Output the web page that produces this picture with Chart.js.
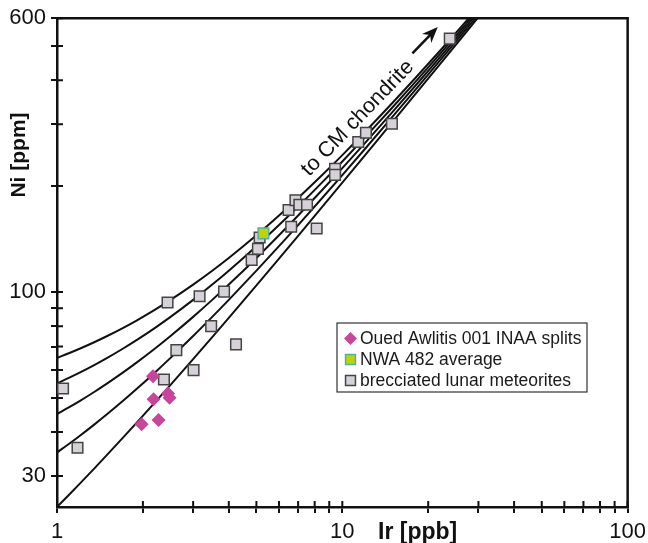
<!DOCTYPE html>
<html><head><meta charset="utf-8">
<script src="https://cdn.jsdelivr.net/npm/chart.js@4/dist/chart.umd.min.js"></script>
<style>html,body{margin:0;padding:0;background:#fff}#wrap{width:648px;height:543px;position:relative}</style>
</head><body><div id="wrap"><canvas id="c" width="648" height="543"></canvas></div>
<script>
// ---- data ----
const irGrid = [1, 1.1, 1.2, 1.35, 1.5, 1.7, 1.9, 2.2, 2.5, 3, 3.5, 4, 5, 6, 7, 8.5, 10, 12, 15, 18, 22, 26, 30];
const mixA = [65, 67, 69, 72, 75, 79, 83, 89, 95, 105, 115, 125, 145, 165, 185, 215, 245, 285, 345, 405, 485, 565, 645];
const mixB = [55, 57, 59, 62, 65, 69, 73, 79, 85, 95, 105, 115, 135, 155, 175, 205, 235, 275, 335, 395, 475, 555, 635];
const mixC = [45, 47, 49, 52, 55, 59, 63, 69, 75, 85, 95, 105, 125, 145, 165, 195, 225, 265, 325, 385, 465, 545, 625];
const mixD = [35, 37, 39, 42, 45, 49, 53, 59, 65, 75, 85, 95, 115, 135, 155, 185, 215, 255, 315, 375, 455, 535, 615];
const mixE = [24.5, 26.5, 28.5, 31.5, 34.5, 38.5, 42.5, 48.5, 54.5, 64.5, 74.5, 84.5, 104.5, 124.5, 144.5, 174.5, 204.5, 244.5, 304.5, 364.5, 444.5, 524.5, 604.5];

const ouedIr = [2.17, 2.18, 2.45, 2.48, 1.98, 2.27];
const ouedNi = [57.6, 49.6, 51.5, 50.1, 42.1, 43.3];

const nwaIr = [5.29];
const nwaNi = [146.8];

const lunarIr = [1.05, 1.18, 2.44, 3.16, 3.85, 3.47, 2.62, 4.24, 3.01, 2.37, 5.13, 5.06, 4.81,
                 6.48, 6.85, 7.07, 7.52, 6.62, 8.13, 9.43, 9.43, 11.37, 12.1, 14.92, 23.8];
const lunarNi = [53.2, 36.1, 93.4, 97.3, 100.3, 80.0, 68.4, 71.0, 60.0, 56.4, 142.9, 132.6, 123.4,
                 171.0, 182.4, 177.0, 177.0, 153.3, 151.6, 223.8, 215.2, 266.9, 283.6, 300.8, 525];

const xTickVals = [1, 2, 3, 4, 5, 6, 7, 8, 9, 10, 20, 30, 40, 50, 60, 70, 80, 90, 100];
const xTickLabels = [1, 10, 100];
const yTickVals = [30, 40, 50, 60, 70, 80, 90, 100, 200, 300, 400, 500, 600];
const yTickLabels = [30, 100, 600];

const seriesNames = ['Oued Awlitis 001 INAA splits', 'NWA 482 average', 'brecciated lunar meteorites'];

// ---- build ----
const pts = (xs, ys) => xs.map((x, i) => ({x: x, y: ys[i]}));
const mixSets = [mixA, mixB, mixC, mixD, mixE].map((m, i) => ({
  label: 'mix' + i, data: pts(irGrid, m), type: 'line', borderColor: '#111', borderWidth: 2,
  pointRadius: 0, cubicInterpolationMode: 'monotone', fill: false, order: 10
}));

const scatterSets = [
  {label: seriesNames[0], data: pts(ouedIr, ouedNi), pointStyle: 'rectRot', pointRadius: 7,
   backgroundColor: '#c9449c', borderColor: '#c9449c', borderWidth: 0, order: 1},
  {label: seriesNames[1], data: pts(nwaIr, nwaNi), pointStyle: 'rect', pointRadius: 7.5,
   backgroundColor: '#c2d400', borderColor: '#4fb0a6', borderWidth: 1.5, order: 0},
  {label: seriesNames[2], data: pts(lunarIr, lunarNi), pointStyle: 'rect', pointRadius: 7.5,
   backgroundColor: '#d6d1d8', borderColor: '#444', borderWidth: 1.5, order: 2}
];

const sans = "'Liberation Sans', Arial, sans-serif";

const decor = {
  id: 'decor',
  afterDraw(chart) {
    const ctx = chart.ctx, a = chart.chartArea, xs = chart.scales.x, ys = chart.scales.y;
    ctx.save();
    // frame top/right
    ctx.strokeStyle = '#111'; ctx.lineWidth = 2.5;
    ctx.beginPath();
    ctx.moveTo(a.left, a.top); ctx.lineTo(a.right, a.top); ctx.lineTo(a.right, a.bottom);
    ctx.stroke();
    // inner halves of tick marks
    ctx.lineWidth = 2;
    ctx.beginPath();
    xTickVals.forEach(v => { const p = xs.getPixelForValue(v); ctx.moveTo(p, a.bottom); ctx.lineTo(p, a.bottom - 6); });
    yTickVals.forEach(v => { const p = ys.getPixelForValue(v); ctx.moveTo(a.left, p); ctx.lineTo(a.left + 6, p); });
    ctx.stroke();
    // axis titles
    ctx.fillStyle = '#111';
    ctx.font = "bold 23px " + sans;
    ctx.textAlign = 'left'; ctx.textBaseline = 'alphabetic';
    ctx.fillText('Ir [ppb]', 378, 539);
    ctx.save();
    ctx.font = "bold 21px " + sans;
    ctx.translate(25, 155); ctx.rotate(-Math.PI / 2);
    ctx.textAlign = 'center';
    ctx.fillText('Ni [ppm]', 0, 0);
    ctx.restore();
    // annotation "to CM chondrite" with arrow
    const tx = xs.getPixelForValue(7.66), ty = ys.getPixelForValue(212.4);
    const ang = -46 * Math.PI / 180;
    ctx.save();
    ctx.translate(tx, ty); ctx.rotate(ang);
    ctx.font = "21.5px " + sans;
    ctx.fillText('to CM chondrite', 0, 0);
    ctx.restore();
    const ax0 = xs.getPixelForValue(17.6), ay0 = ys.getPixelForValue(477);
    const ax1 = xs.getPixelForValue(21.6), ay1 = ys.getPixelForValue(566);
    const th = Math.atan2(ay1 - ay0, ax1 - ax0);
    const c = Math.cos(th), s = Math.sin(th);
    ctx.lineWidth = 2.5;
    ctx.beginPath(); ctx.moveTo(ax0, ay0);
    ctx.lineTo(ax1 - 10 * c, ay1 - 10 * s); ctx.stroke();
    ctx.beginPath();
    ctx.moveTo(ax1, ay1);
    ctx.lineTo(ax1 - 16 * c + 6.5 * s, ay1 - 16 * s - 6.5 * c);
    ctx.lineTo(ax1 - 11 * c, ay1 - 11 * s);
    ctx.lineTo(ax1 - 16 * c - 6.5 * s, ay1 - 16 * s + 6.5 * c);
    ctx.closePath(); ctx.fill();
    // legend box
    const lx = 337, ly = 323, lw = 250, lh = 69;
    ctx.fillStyle = '#fff'; ctx.fillRect(lx, ly, lw, lh);
    ctx.strokeStyle = '#333'; ctx.lineWidth = 1.2; ctx.strokeRect(lx, ly, lw, lh);
    ctx.font = "17.5px " + sans;
    ctx.textBaseline = 'middle'; ctx.textAlign = 'left';
    scatterSets.forEach((ds, i) => {
      const cy = ly + 15.5 + i * 21;
      ctx.fillStyle = ds.backgroundColor; ctx.strokeStyle = ds.borderColor;
      ctx.lineWidth = ds.borderWidth;
      Chart.helpers.drawPoint(ctx, {pointStyle: ds.pointStyle, radius: ds.pointStyle === 'rectRot' ? 6.5 : 7, rotation: 0, borderWidth: ds.borderWidth}, 350.5, cy);
      ctx.fillStyle = '#1a1a1a';
      ctx.fillText(ds.label, 360, cy + 1);
    });
    ctx.restore();
  }
};

new Chart(document.getElementById('c'), {
  type: 'scatter',
  data: {datasets: [...scatterSets, ...mixSets]},
  options: {
    responsive: false, animation: false, devicePixelRatio: 1,
    layout: {padding: {top: 16, right: 19, left: 0, bottom: 0}},
    plugins: {legend: {display: false}, tooltip: {enabled: false}},
    scales: {
      x: {
        type: 'logarithmic', min: 1, max: 100,
        afterBuildTicks: s => { s.ticks = xTickVals.map(v => ({value: v})); },
        afterFit: s => { s.height = 36; },
        ticks: {autoSkip: false, maxRotation: 0, padding: 2, color: '#111',
          font: {family: sans, size: 22, lineHeight: 1.55},
          callback: v => xTickLabels.includes(v) ? String(v) : ''},
        grid: {drawOnChartArea: false, drawTicks: true, tickLength: 6, color: '#111', lineWidth: 2},
        border: {display: true, color: '#111', width: 2.5}
      },
      y: {
        type: 'logarithmic', min: 24.5, max: 600,
        afterBuildTicks: s => { s.ticks = yTickVals.map(v => ({value: v})); },
        afterFit: s => { s.width = 57; },
        ticks: {autoSkip: false, padding: 5, color: '#111',
          font: {family: sans, size: 22},
          callback: v => yTickLabels.includes(v) ? String(v) : ''},
        grid: {drawOnChartArea: false, drawTicks: true, tickLength: 6, color: '#111', lineWidth: 2},
        border: {display: true, color: '#111', width: 2.5}
      }
    }
  },
  plugins: [decor]
});
</script></body></html>
